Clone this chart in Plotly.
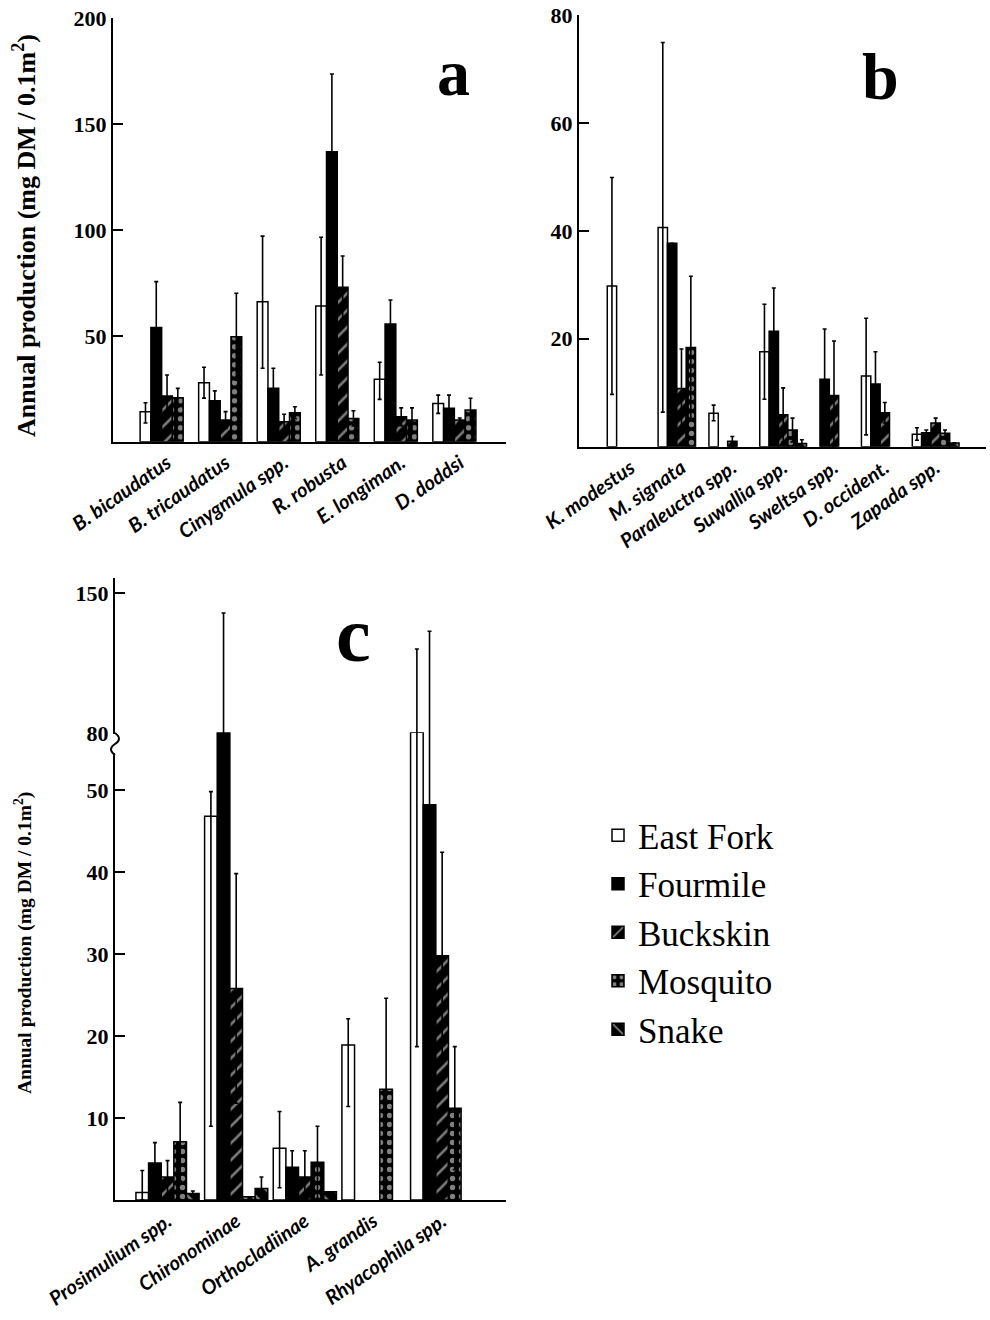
import plotly.graph_objects as go

# ---------------- data ----------------
sites = ["East Fork", "Fourmile", "Buckskin", "Mosquito", "Snake"]

# panel a (mg DM / 0.1 m2)
cat_a = ["B. bicaudatus", "B. tricaudatus", "Cinygmula spp.", "R. robusta", "E. longiman.", "D. doddsi"]
a_east = [14.2, 27.9, 66.1, 64.1, 29.5, 18.1]
a_east_up = [4.2, 7.3, 31.0, 32.5, 8.0, 3.9]
a_east_dn = [5.4, 7.3, 31.4, 32.6, 9.5, 4.7]
a_four = [53.9, 19.4, 25.2, 137.0, 55.6, 15.8]
a_four_up = [21.7, 4.6, 9.5, 36.7, 11.3, 6.2]
a_four_dn = [21.7, 4.6, 9.5, 36.7, 11.3, 6.2]
a_buck = [21.6, 10.2, 9.4, 72.9, 11.8, 10.2]
a_buck_up = [9.9, 4.0, 3.6, 14.8, 4.2, 1.0]
a_buck_dn = [9.9, 4.0, 3.6, 14.8, 4.2, 1.0]
a_mosq = [20.8, 49.6, 13.7, 11.0, 10.2, 15.0]
a_mosq_up = [4.4, 20.5, 2.8, 3.6, 5.8, 5.5]
a_mosq_dn = [4.4, 20.5, 2.8, 3.6, 5.8, 5.5]
a_snake = [None, None, None, None, None, None]
a_snake_up = [None, None, None, None, None, None]
a_snake_dn = [None, None, None, None, None, None]

# panel b
cat_b = ["K. modestus", "M. signata", "Paraleuctra spp.", "Suwallia spp.", "Sweltsa spp.", "D. occident.", "Zapada spp."]
b_east = [29.8, 40.6, 6.2, 17.6, None, 13.1, 2.3]
b_east_up = [20.1, 34.3, 1.5, 8.8, None, 10.7, 1.2]
b_east_dn = [20.1, 34.2, 1.4, 8.8, None, 10.9, 1.1]
b_four = [None, 37.7, None, 21.4, 12.5, 11.6, 2.6]
b_four_up = [None, 0.0, None, 8.0, 9.3, 6.0, 0.5]
b_four_dn = [None, 0.0, None, 8.0, 9.3, 6.0, 0.5]
b_buck = [None, 10.8, 1.0, 5.9, 9.5, 6.3, 4.4]
b_buck_up = [None, 7.3, 0.9, 5.0, 10.1, 1.9, 0.9]
b_buck_dn = [None, 7.3, 0.9, 5.0, 9.5, 1.9, 0.9]
b_mosq = [None, 18.4, None, 3.1, None, None, 2.5]
b_mosq_up = [None, 13.2, None, 2.2, None, None, 0.6]
b_mosq_dn = [None, 13.2, None, 2.2, None, None, 0.6]
b_snake = [None, None, None, 0.6, None, None, 0.7]
b_snake_up = [None, None, None, 0.7, None, None, 0.0]
b_snake_dn = [None, None, None, 0.6, None, None, 0.0]

# panel c (broken axis: 0-57 linear, 80-157 compressed)
cat_c = ["Prosimulium spp.", "Chironominae", "Orthocladiinae", "A. grandis", "Rhyacophila spp."]
c_east = [0.9, 46.8, 6.3, 18.9, 80.0]
c_east_up = [2.7, 3.0, 4.5, 3.2, 42.0]
c_east_dn = [0.9, 37.8, 4.8, 7.5, 61.3]
c_four = [4.5, 80.0, 4.0, None, 48.2]
c_four_up = [2.5, 60.0, 2.0, None, 82.7]
c_four_dn = [2.5, 60.0, 2.0, None, 48.2]
c_buck = [2.8, 25.8, 2.8, None, 29.8]
c_buck_up = [2.0, 14.0, 3.2, None, 12.6]
c_buck_dn = [2.0, 14.0, 2.8, None, 12.6]
c_mosq = [7.1, 0.4, 4.6, 13.5, 11.2]
c_mosq_up = [4.8, 0.0, 4.4, 11.1, 7.5]
c_mosq_dn = [4.8, 0.0, 4.4, 11.1, 7.5]
c_snake = [0.8, 1.4, 1.0, None, None]
c_snake_up = [0.3, 1.4, 0.0, None, None]
c_snake_dn = [0.3, 1.4, 0.0, None, None]

# ---------------- styles ----------------
W, H = 990, 1320


def fx(px):
    return px / W


def fy(py):
    return 1 - py / H


site_style = {
    "East Fork": dict(color="white", pattern=dict(shape="")),
    "Fourmile": dict(color="black", pattern=dict(shape="")),
    "Buckskin": dict(color="black", pattern=dict(shape="/", fgcolor="white", bgcolor="black",
                                                 size=12, solidity=0.22)),
    "Mosquito": dict(color="black", pattern=dict(shape=".", fgcolor="white", bgcolor="black",
                                                 size=9, solidity=0.28)),
    "Snake": dict(color="black", pattern=dict(shape="\\", fgcolor="white", bgcolor="black",
                                              size=12, solidity=0.22)),
}

fig = go.Figure()


def add_panel(cats, series, xa, ya, legend):
    for site, (vals, up, dn) in zip(sites, series):
        st = site_style[site]
        fig.add_trace(go.Bar(
            x=cats, y=vals, name=site, xaxis=xa, yaxis=ya,
            showlegend=legend,
            marker=dict(color=st["color"], pattern=st["pattern"],
                        line=dict(color="black", width=1.5)),
            error_y=dict(type="data", symmetric=False, array=up, arrayminus=dn,
                         color="black", thickness=1.6, width=2),
        ))


add_panel(cat_a, [(a_east, a_east_up, a_east_dn), (a_four, a_four_up, a_four_dn),
                  (a_buck, a_buck_up, a_buck_dn), (a_mosq, a_mosq_up, a_mosq_dn),
                  (a_snake, a_snake_up, a_snake_dn)], "x", "y", True)
add_panel(cat_b, [(b_east, b_east_up, b_east_dn), (b_four, b_four_up, b_four_dn),
                  (b_buck, b_buck_up, b_buck_dn), (b_mosq, b_mosq_up, b_mosq_dn),
                  (b_snake, b_snake_up, b_snake_dn)], "x2", "y2", False)
c_series = [(c_east, c_east_up, c_east_dn), (c_four, c_four_up, c_four_dn),
            (c_buck, c_buck_up, c_buck_dn), (c_mosq, c_mosq_up, c_mosq_dn),
            (c_snake, c_snake_up, c_snake_dn)]
add_panel(cat_c, c_series, "x3", "y3", False)
add_panel(cat_c, c_series, "x3", "y4", False)

tickfont_y = dict(family="Liberation Serif", size=22, color="black", weight="bold")
tickfont_x = dict(family="Lato", size=20, color="black", weight="bold", style="italic")

ax_y = dict(showline=True, linecolor="black", linewidth=2, ticks="inside", ticklen=10,
            tickwidth=2, tickcolor="black", showgrid=False, zeroline=False,
            tickfont=tickfont_y, fixedrange=True, automargin=False, ticklabelstandoff=0,
            ticklabeloverflow="allow")
ax_x = dict(showline=True, linecolor="black", linewidth=2, ticks="", showgrid=False,
            zeroline=False, tickangle=-35, tickfont=tickfont_x, fixedrange=True,
            automargin=False, ticklabeloverflow="allow")

fig.update_layout(
    width=W, height=H,
    margin=dict(l=0, r=0, t=0, b=0, autoexpand=False),
    paper_bgcolor="white", plot_bgcolor="white",
    barmode="group", bargap=0.08, bargroupgap=0,
    xaxis=dict(ax_x, domain=[fx(113), fx(506)], range=[-0.923, 5.79], anchor="y"),
    yaxis=dict(ax_y, domain=[fy(441.7), fy(18.3)], range=[0, 200],
               tickvals=[50, 100, 150, 200], anchor="x"),
    xaxis2=dict(ax_x, domain=[fx(579), fx(986)], range=[-1.016, 6.99], anchor="y2"),
    yaxis2=dict(ax_y, domain=[fy(446.7), fy(15)], range=[0, 80],
                tickvals=[20, 40, 60, 80], anchor="x2"),
    xaxis3=dict(ax_x, domain=[fx(115), fx(506)], range=[-0.765, 4.93], anchor="y3"),
    yaxis3=dict(ax_y, domain=[fy(1200), fy(733)], range=[0, 56.95],
                tickvals=[10, 20, 30, 40, 50], anchor="x3"),
    yaxis4=dict(ax_y, domain=[fy(733), fy(578)], range=[80, 157.5],
                tickvals=[80, 150], anchor="x3"),
    legend=dict(x=fx(598), y=fy(806), xanchor="left", yanchor="top",
                font=dict(family="Liberation Serif", size=35, color="black"),
                bgcolor="rgba(0,0,0,0)", itemwidth=30, tracegroupgap=0,
                traceorder="normal"),
)

ytitle = "Annual production (mg DM / 0.1m<sup>2</sup>)"
annos = [
    dict(text=ytitle, x=fx(24), y=fy(236), textangle=-90,
         font=dict(family="Liberation Serif", size=26, color="black", weight="bold")),
    dict(text=ytitle, x=fx(23), y=fy(943), textangle=-90,
         font=dict(family="Liberation Serif", size=19.5, color="black", weight="bold")),
    dict(text="a", x=fx(453), y=fy(72),
         font=dict(family="Liberation Serif", size=66, color="black", weight="bold")),
    dict(text="b", x=fx(880), y=fy(76),
         font=dict(family="Liberation Serif", size=66, color="black", weight="bold")),
    dict(text="c", x=fx(353.5), y=fy(634.5),
         font=dict(family="Liberation Serif", size=78, color="black", weight="bold")),
]
for a in annos:
    a.update(xref="paper", yref="paper", showarrow=False, xanchor="center", yanchor="middle")
fig.update_layout(annotations=annos)

# axis-break mark on panel c
sx, y0, y1 = 115, 733, 755
fig.add_shape(type="rect", xref="paper", yref="paper",
              x0=fx(sx - 5), x1=fx(sx + 5), y0=fy(y1 - 2), y1=fy(y0 + 1),
              fillcolor="white", line=dict(width=0), layer="above")
path = (f"M{fx(sx)},{fy(y0)} Q{fx(sx + 8)},{fy(y0 + 6)} {fx(sx)},{fy(y0 + 11)} "
        f"Q{fx(sx - 8)},{fy(y0 + 16)} {fx(sx)},{fy(y1)}")
fig.add_shape(type="path", xref="paper", yref="paper", path=path,
              line=dict(color="black", width=2), layer="above")

# remove the default page margin so the figure fills the 990x1320 window exactly
fig.write_html("out.html", config={"displayModeBar": False},
               post_script="document.body.style.margin='0';document.body.style.overflow='hidden';")
